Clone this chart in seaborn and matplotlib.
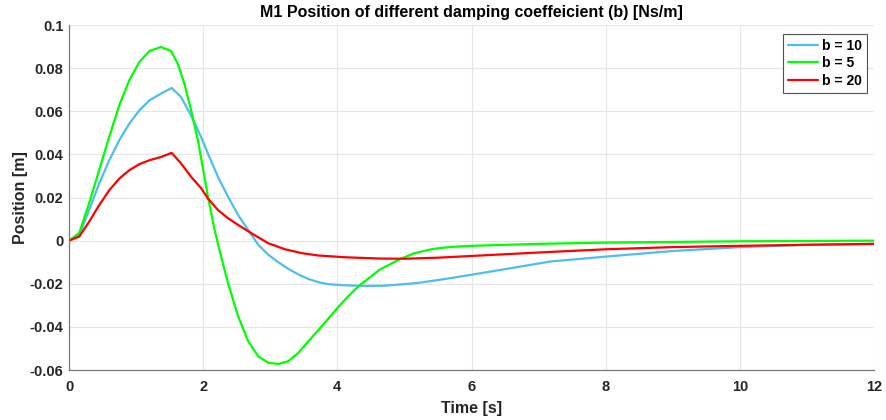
import numpy as np
import pandas as pd
import matplotlib
matplotlib.use("Agg")
import matplotlib.pyplot as plt
import seaborn as sns

# ---- data ----
t_b10 = [0, 0.153, 0.30, 0.45, 0.60, 0.75, 0.90, 1.05, 1.20, 1.37, 1.53, 1.67, 1.82, 1.97,
         2.07, 2.22, 2.37, 2.52, 2.67, 2.82, 2.97, 3.12, 3.27, 3.42, 3.57, 3.72, 3.87, 4.11,
         4.4, 4.7, 5.18, 5.6, 6.0, 6.6, 7.17, 8.0, 9.0, 10.0, 11.0, 12.0]
y_b10 = [0, 0.0026, 0.0142, 0.0265, 0.0373, 0.0466, 0.0543, 0.0605, 0.0651, 0.0682, 0.0708,
         0.0666, 0.058, 0.048, 0.0404, 0.0296, 0.0204, 0.0119, 0.005, -0.0019, -0.0065,
         -0.0100, -0.0131, -0.0157, -0.0178, -0.0193, -0.0202, -0.0207, -0.0210, -0.0209,
         -0.0197, -0.0178, -0.0158, -0.0127, -0.0097, -0.0074, -0.0048, -0.0030, -0.0020,
         -0.0015]

t_b5 = [0, 0.153, 0.30, 0.45, 0.60, 0.75, 0.90, 1.05, 1.20, 1.37, 1.52, 1.62, 1.72, 1.82,
        1.92, 2.00, 2.07, 2.17, 2.28, 2.37, 2.52, 2.67, 2.82, 2.97, 3.12, 3.27, 3.42, 3.57,
        3.72, 3.87, 4.02, 4.17, 4.34, 4.63, 4.93, 5.15, 5.43, 5.7, 6.0, 7.0, 8.0, 10.0, 12.0]
y_b5 = [0, 0.0036, 0.0174, 0.0328, 0.0482, 0.0629, 0.0745, 0.0829, 0.0880, 0.0898, 0.0880,
        0.0821, 0.0728, 0.0605, 0.0467, 0.0330, 0.0205, 0.0050, -0.0089, -0.0197, -0.0350,
        -0.0466, -0.0536, -0.0566, -0.0572, -0.0559, -0.0520, -0.0466, -0.0414, -0.0360,
        -0.0306, -0.0255, -0.0205, -0.0135, -0.0086, -0.0058, -0.0038, -0.0029, -0.0024,
        -0.0015, -0.0009, -0.0003, 0.0]

t_b20 = [0, 0.153, 0.30, 0.45, 0.60, 0.75, 0.90, 1.05, 1.20, 1.37, 1.53, 1.67, 1.82, 1.97,
         2.07, 2.22, 2.37, 2.52, 2.72, 2.97, 3.22, 3.47, 3.72, 4.11, 4.63, 5.0, 5.5, 6.0,
         7.0, 8.0, 9.0, 10.0, 11.0, 12.0]
y_b20 = [0, 0.0019, 0.0088, 0.0165, 0.0234, 0.0288, 0.0327, 0.0355, 0.0373, 0.0388, 0.0407,
         0.0358, 0.0296, 0.0243, 0.0196, 0.0142, 0.0104, 0.0073, 0.0034, -0.0012, -0.0040,
         -0.0058, -0.0069, -0.0077, -0.0083, -0.0084, -0.0079, -0.0071, -0.0055, -0.0040,
         -0.0030, -0.0024, -0.0019, -0.0015]

labels = ["b = 10", "b = 5", "b = 20"]
colors = ["#4DBEEE", "#00FF00", "#FF0000"]

x_ticks = [0, 2, 4, 6, 8, 10, 12]
y_ticks = [-0.06, -0.04, -0.02, 0, 0.02, 0.04, 0.06, 0.08, 0.1]
y_tick_labels = ["-0.06", "-0.04", "-0.02", "0", "0.02", "0.04", "0.06", "0.08", "0.1"]

df = pd.concat([
    pd.DataFrame({"Time": t_b10, "Position": y_b10, "b": labels[0]}),
    pd.DataFrame({"Time": t_b5, "Position": y_b5, "b": labels[1]}),
    pd.DataFrame({"Time": t_b20, "Position": y_b20, "b": labels[2]}),
], ignore_index=True)

sns.set_style("white")
plt.rcParams["font.family"] = ["Liberation Sans", "DejaVu Sans"]

fig = plt.figure(figsize=(8.86, 4.2), dpi=100)
ax = fig.add_axes([0.0779, 0.119, 0.9086, 0.8214])

sns.lineplot(data=df, x="Time", y="Position", hue="b", hue_order=labels,
             palette=dict(zip(labels, colors)), linewidth=1.6, ax=ax, sort=False,
             estimator=None)

ax.set_xlim(0, 12)
ax.set_ylim(-0.06, 0.1)
ax.set_xticks(x_ticks)
ax.set_xticklabels([str(v) for v in x_ticks])
ax.set_yticks(y_ticks)
ax.set_yticklabels(y_tick_labels)
ax.grid(True, color="#e6e6e6", linewidth=0.8)
ax.set_axisbelow(True)

for side in ["top", "right"]:
    ax.spines[side].set_visible(False)
for side in ["left", "bottom"]:
    ax.spines[side].set_color("#7a7a7a")
    ax.spines[side].set_linewidth(0.9)

ax.tick_params(direction="in", length=5, width=0.8, color="#7a7a7a",
               labelsize=10.5, labelcolor="#262626")
ax.tick_params(axis="x", pad=7)
ax.tick_params(axis="y", pad=4)
for lbl in ax.get_xticklabels() + ax.get_yticklabels():
    lbl.set_fontweight("bold")

ax.set_xlabel("Time [s]", fontsize=11.5, fontweight="bold", color="#262626", labelpad=5)
ax.set_ylabel("Position [m]", fontsize=11.5, fontweight="bold", color="#262626", labelpad=1)
ax.set_title("M1 Position of different damping coeffeicient (b) [Ns/m]", fontsize=11.5,
             fontweight="bold", color="#000000", pad=6)

leg = ax.legend(loc="upper right", frameon=True, fancybox=False, fontsize=10,
                handlelength=2.2, borderpad=0.35, labelspacing=0.25, handletextpad=0.25,
                borderaxespad=0, bbox_to_anchor=(0.991, 0.974))
leg.get_frame().set_edgecolor("#262626")
leg.get_frame().set_linewidth(0.8)
for txt in leg.get_texts():
    txt.set_fontweight("bold")
    txt.set_color("#000000")

fig.savefig("out.png", dpi=100)
